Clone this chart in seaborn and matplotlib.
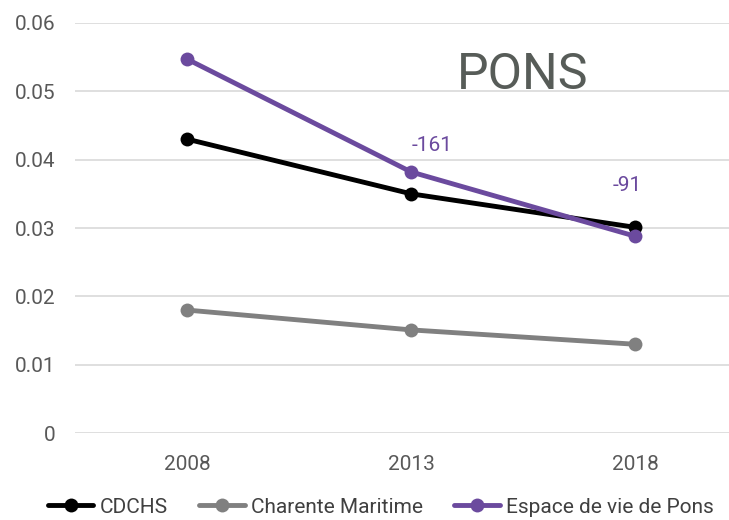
import matplotlib
matplotlib.use('Agg')
import matplotlib.pyplot as plt
import pandas as pd
import seaborn as sns

# data
years = ['2008', '2013', '2018']
cdchs = [0.0430, 0.0350, 0.0301]
charente = [0.0180, 0.0151, 0.0130]
pons = [0.0547, 0.0382, 0.0288]
series_names = ['CDCHS', 'Charente Maritime', 'Espace de vie de Pons']
annot_labels = ['-161', '-91']
yticks = [0, 0.01, 0.02, 0.03, 0.04, 0.05, 0.06]
ytick_labels = ['0', '0.01', '0.02', '0.03', '0.04', '0.05', '0.06']

df = pd.DataFrame({
    'year': years * 3,
    'value': cdchs + charente + pons,
    'serie': [series_names[0]] * 3 + [series_names[1]] * 3 + [series_names[2]] * 3,
})

sns.set_style('white')
plt.rcParams['font.family'] = ['Roboto', 'DejaVu Sans']

purple = '#6b4a9e'
palette = {'CDCHS': '#000000', 'Charente Maritime': '#808080',
           'Espace de vie de Pons': purple}

fig = plt.figure(figsize=(7.29, 5.2), dpi=100)
ax = fig.add_axes([0.103, 0.167, 0.922, 0.789])

sns.lineplot(data=df, x='year', y='value', hue='serie', palette=palette,
             marker='o', markersize=10, markeredgewidth=0, linewidth=3.5,
             ax=ax, sort=False)

ax.set_xlim(-0.5, 2.5)
ax.set_ylim(0, 0.06)
ax.set_yticks(yticks)
ax.set_yticklabels(ytick_labels)
ax.yaxis.grid(True, color='#d9d9d9', linewidth=1.2)
ax.set_axisbelow(True)
for s in ax.spines.values():
    s.set_visible(False)
ax.tick_params(axis='both', length=0, labelsize=15, labelcolor='#595959', pad=14)
ax.tick_params(axis='x', pad=16)
ax.set_xlabel('')
ax.set_ylabel('')

# annotations on the Pons series
ax.annotate(annot_labels[0], (1, pons[1]), xytext=(15, 12), textcoords='offset points',
            ha='center', va='bottom', color=purple, fontsize=15)
ax.annotate(annot_labels[1], (2, pons[2]), xytext=(-6, 30), textcoords='offset points',
            ha='center', va='bottom', color=purple, fontsize=15)

ax.text(0.666, 0.872, 'PONS', transform=ax.transAxes, ha='center', va='center',
        fontsize=36, color='#575c58')

handles, labels = ax.get_legend_handles_labels()
ax.legend(handles, labels, loc='center', bbox_to_anchor=(0.455, -0.18),
          ncol=3, frameon=False, fontsize=15, handlelength=2.2, handletextpad=0.3,
          columnspacing=1.5, labelcolor='#404040')

fig.savefig('out.png', dpi=100)
